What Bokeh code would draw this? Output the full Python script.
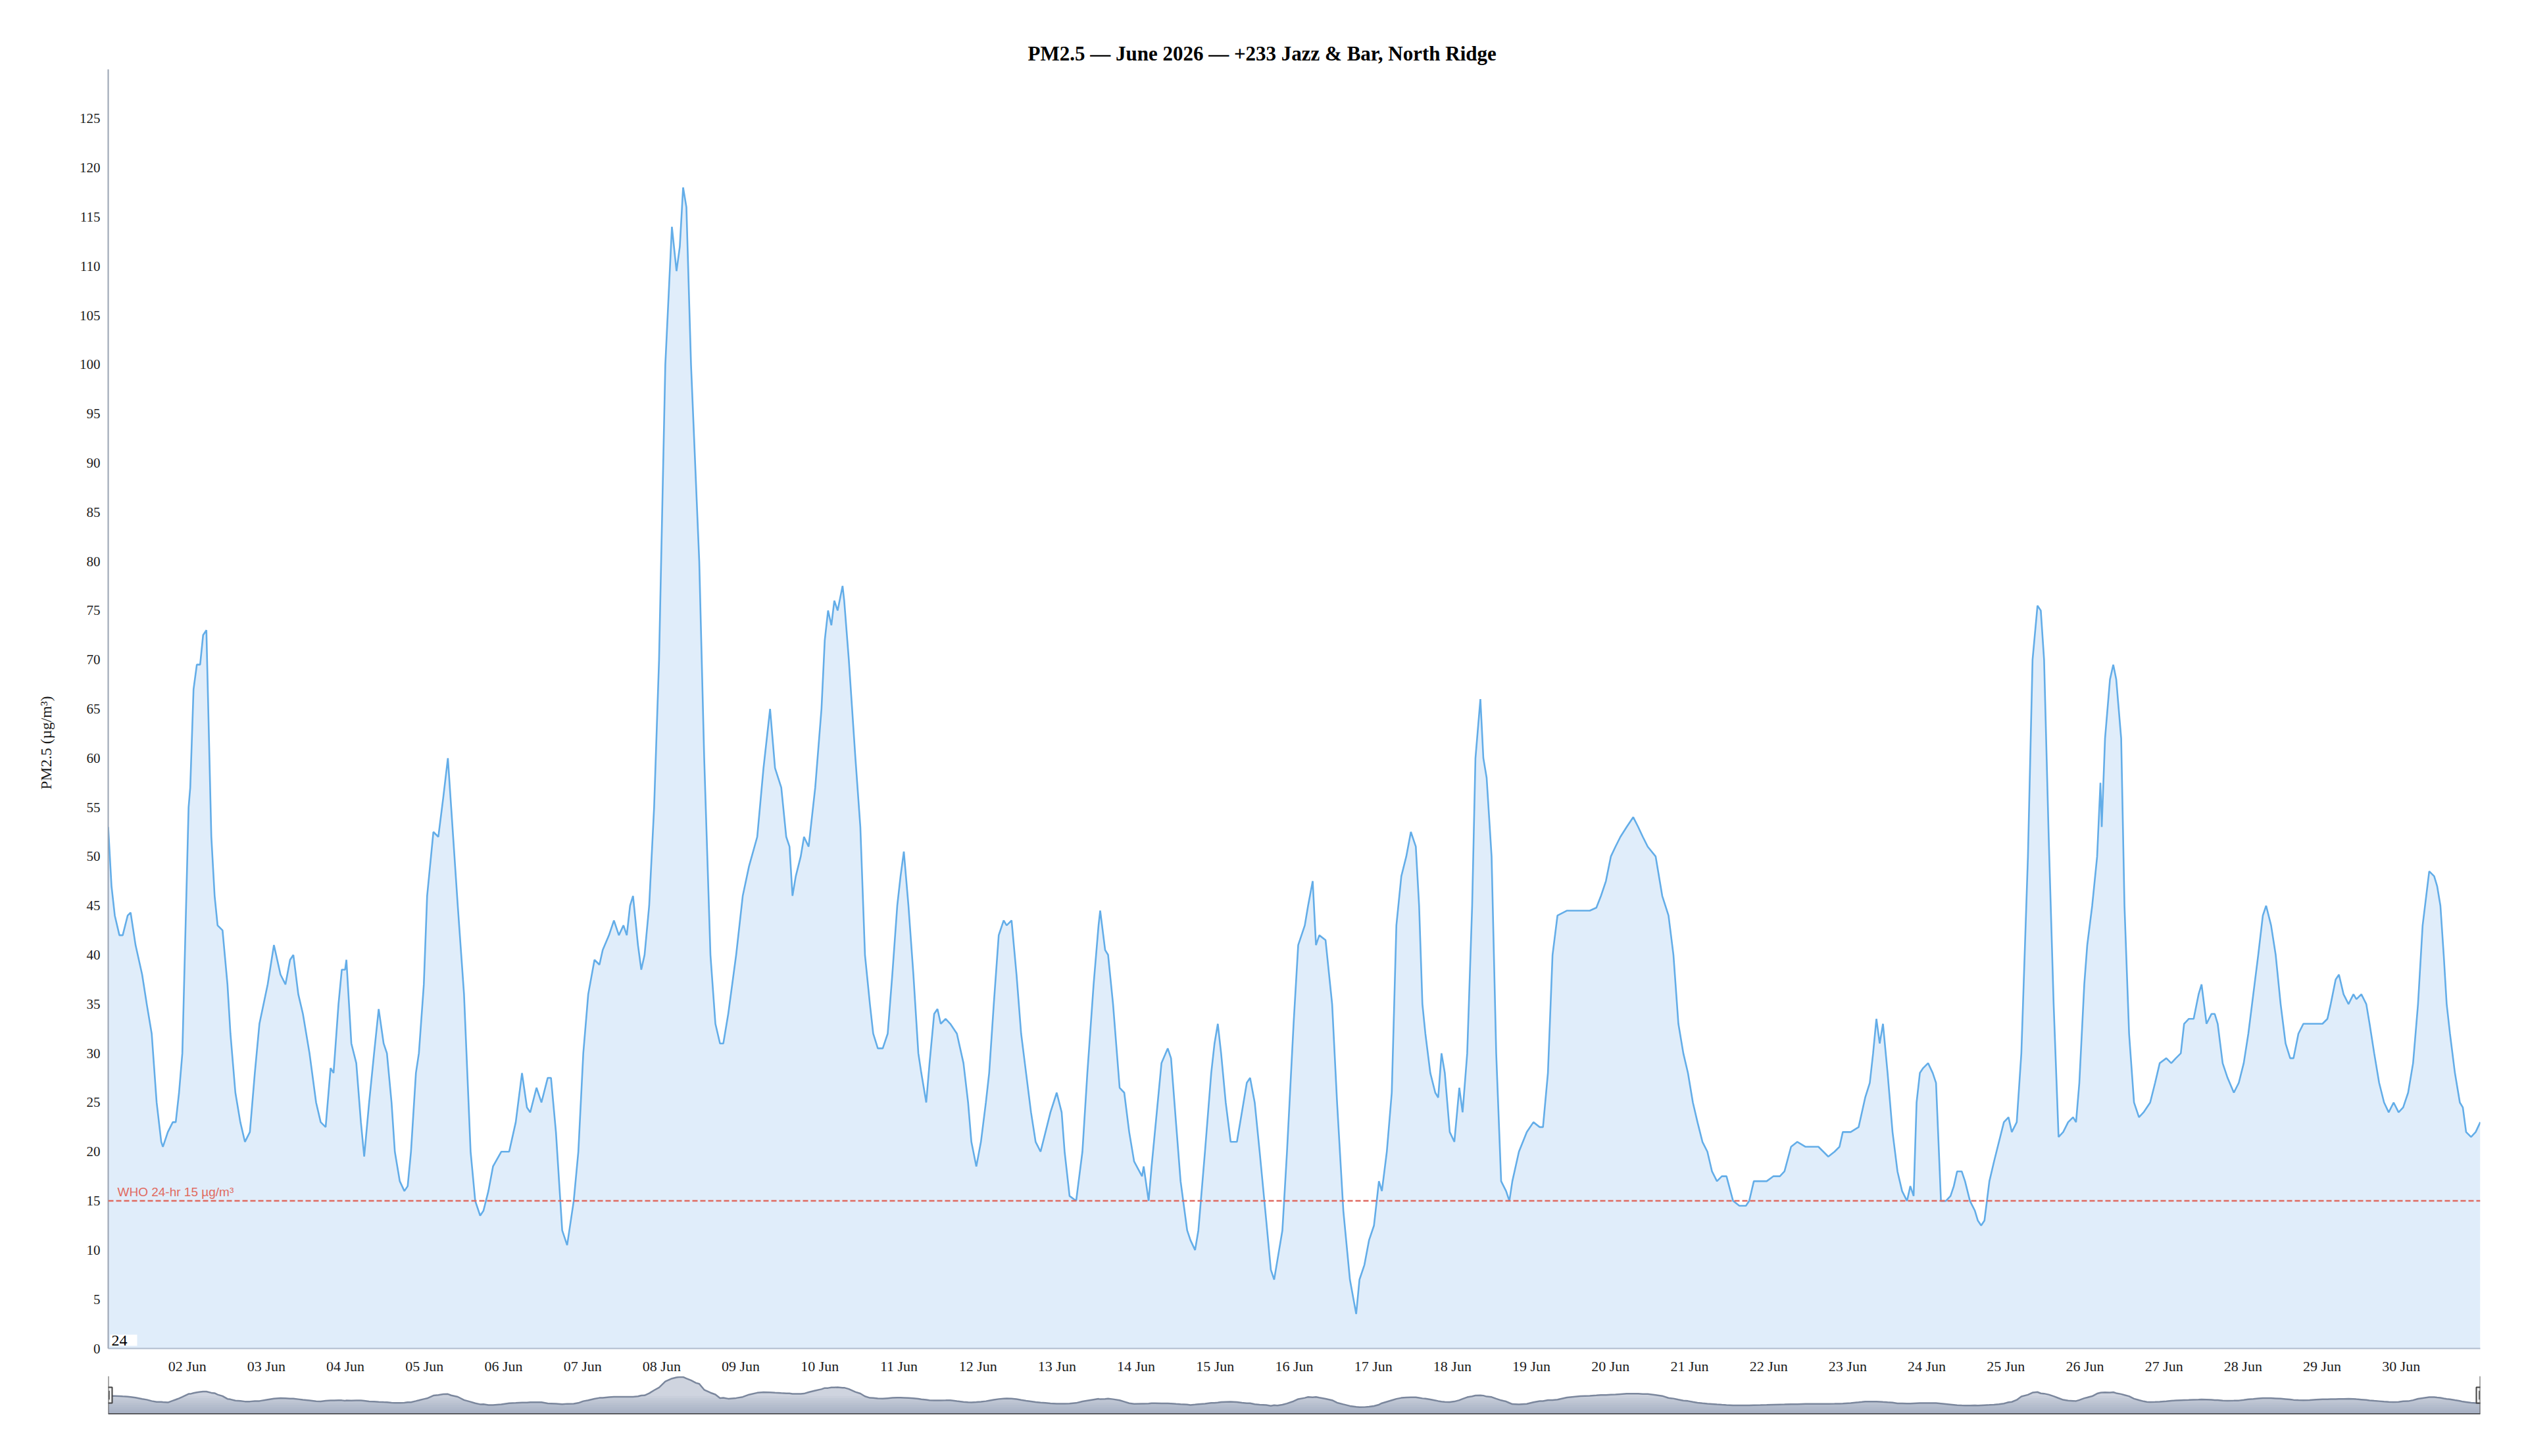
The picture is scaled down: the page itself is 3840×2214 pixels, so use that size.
import math
import numpy as np
import pandas as pd
from bokeh.plotting import figure
from bokeh.layouts import column
from bokeh.models import (Range1d, FixedTicker, DatetimeTickFormatter, Span, Label,
                          ColumnDataSource, Title)
from bokeh.embed import file_html
from bokeh.resources import INLINE

# ---------------- data ----------------
TITLE = "PM2.5 — June 2026 — +233 Jazz & Bar, North Ridge"
Y_LABEL = "PM2.5 (µg/m³)"
WHO_LABEL = "WHO 24-hr 15 µg/m³"
WHO_LIMIT = 15
CORNER_TEXT = "24"
START = "2026-06-01 00:00"
END = "2026-07-01 00:00"
TICK_DAYS = [f"2026-06-{d:02d}" for d in range(2, 31)]
Y_TICKS = list(range(0, 126, 5))

# hours since 2026-06-01 00:00
hours = [
    0, 1, 2, 3.4, 4.4, 5.9, 6.8, 8.3, 10.3, 11.7,
    13.2, 14.7, 16.1, 16.6, 18.1, 19.6, 20.5, 21.5, 22.5, 24.4,
    24.9, 25.9, 26.9, 27.9, 28.8, 29.8, 31.3, 32.3, 33.2, 34.7,
    36.2, 37.1, 38.6, 40.1, 41.5, 43, 44.5, 45.9, 48.4, 50.3,
    52.3, 53.8, 55.2, 56.2, 57.7, 59.1, 61.1, 63.1, 64.5, 66,
    67.5, 68.4, 69.9, 70.9, 71.9, 72.3, 73.8, 75.3, 76.7, 77.7,
    79.2, 80.7, 82.1, 83.6, 84.6, 86, 87, 88.5, 89.9, 90.9,
    91.9, 93.4, 94.3, 95.8, 96.8, 98.7, 100.2, 101.7, 103.1, 104.1,
    106.1, 108, 110, 111.4, 112.9, 113.9, 115.4, 116.8, 119.3, 121.7,
    123.7, 125.6, 127.1, 128.1, 130, 131.5, 133.4, 134.4, 135.9, 137.8,
    139.3, 141.3, 142.7, 144.2, 145.7, 147.6, 149.1, 150.1, 152, 153.5,
    155, 156.4, 157.4, 158.4, 159.3, 160.8, 161.8, 162.8, 164.2, 165.7,
    167.2, 169.1, 171.1, 172.5, 173.5, 174.5, 175.5, 176.9, 178.4, 179.4,
    180.9, 182.8, 184.3, 185.7, 186.7, 188.2, 190.6, 192.6, 194.5, 197,
    198.9, 200.9, 202.4, 204.3, 205.8, 206.8, 207.7, 208.7, 210.2, 211.2,
    212.6, 214.6, 216.5, 217.5, 218.5, 219.5, 220.4, 221.4, 222.9, 223.4,
    224.8, 226.8, 228.3, 229.7, 231.2, 232.2, 233.6, 235.1, 236.6, 238,
    239.5, 240.5, 241.5, 242.9, 244.4, 245.9, 246.8, 248.3, 249.3, 250.7,
    251.7, 252.7, 254.2, 255.6, 257.6, 259.6, 261, 262, 263.5, 264.9,
    266.4, 267.4, 268.8, 270.3, 271.8, 272.7, 274.2, 275.7, 277.1, 278.6,
    280.1, 281.5, 283, 284.5, 286, 287.9, 289.4, 290.3, 291.8, 293.8,
    295.7, 297.2, 299.1, 300.6, 301.1, 302.6, 303.5, 305, 307, 308.4,
    309.9, 311.4, 313.8, 314.3, 315.8, 316.7, 317.7, 319.7, 321.6, 322.6,
    324.1, 325.5, 327.5, 328.5, 329.9, 330.9, 332.9, 334.8, 335.8, 336.8,
    337.8, 339.2, 340.7, 342.6, 344.1, 345.6, 346.6, 348, 349.5, 351.5,
    352.9, 353.9, 354.9, 356.4, 357.8, 359.8, 361.2, 363.2, 364.2, 365.6,
    366.6, 367.6, 369.5, 371.5, 373, 374.9, 376.9, 378.8, 379.8, 381.3,
    382.7, 384.2, 385.7, 386.6, 388.1, 389.6, 391, 392.5, 394, 395.4,
    396.9, 397.9, 398.9, 399.8, 401.3, 402.8, 403.7, 404.7, 405.7, 407.2,
    408.6, 410.1, 411.1, 412.5, 414, 415, 416.5, 417.4, 418.4, 419.9,
    421.3, 422.8, 424.3, 425.3, 426.2, 428.2, 430.6, 432.6, 434.5, 435.5,
    437, 438.4, 439.9, 442.8, 446.8, 449.7, 451.7, 453.1, 454.6, 456.1,
    457.5, 459, 460.9, 462.9, 464.4, 465.8, 467.3, 469.7, 471.7, 473.6,
    475.1, 476.6, 478.1, 479.5, 481, 482.4, 483.9, 485.4, 486.8, 488.3,
    489.8, 491.2, 493.2, 495.1, 497.1, 498.1, 499.5, 501.5, 503.4, 505.4,
    507.4, 508.8, 510.8, 512.7, 515.2, 519.1, 520.6, 522.1, 524, 525.5,
    526.5, 528.9, 531.3, 532.3, 533.3, 534.7, 535.7, 536.7, 537.7, 538.7,
    540.1, 541.6, 543.1, 544.5, 546, 547, 548, 548.9, 549.9, 550.9,
    552.4, 553.8, 554.8, 556.3, 557.8, 559.2, 560.2, 561.2, 562.6, 563.6,
    565.1, 566.6, 567.5, 568.5, 569.5, 571, 572.4, 573.9, 575.4, 576.8,
    577.8, 579.3, 580.7, 582.7, 584.1, 585.6, 586.6, 587.6, 589, 590.5,
    592, 593.4, 594.9, 596.4, 597.3, 598.3, 599.8, 600.7, 602.2, 603.7,
    604.7, 605.1, 606.1, 607.6, 608.6, 609.5, 611, 612, 613.4, 614.9,
    616.4, 617.8, 618.8, 619.8, 621.3, 622.7, 624.7, 626.2, 627.6, 629.1,
    630.1, 631.5, 633, 634.5, 635.4, 636.9, 638.4, 639.4, 640.3, 641.8,
    643.3, 645.2, 646.7, 648.2, 649.6, 651.1, 652.6, 654, 655, 656.5,
    657.9, 659.4, 660.9, 662.3, 663.3, 664.8, 666.3, 668.2, 670.2, 672.1,
    673.6, 674.6, 676.1, 677.1, 678.5, 680, 681.5, 682.4, 683.9, 685.4,
    686.4, 687.8, 689.3, 690.8, 692.2, 693.7, 695.2, 696.6, 698.1, 699.6,
    701.1, 702.5, 704.5, 706, 706.9, 707.9, 708.9, 709.8, 710.8, 712.3,
    713.8, 714.7, 715.7, 717.2, 718.6, 720,
]

pm25 = [
    53, 47, 44, 42, 42, 44, 44.3, 41, 38, 35,
    32, 25, 21, 20.5, 22, 23, 23, 26, 30, 55,
    57, 67, 69.5, 69.5, 72.5, 73, 52, 46, 43, 42.5,
    37, 32, 26, 23, 21, 22, 28, 33, 37, 41,
    38, 37, 39.5, 40, 36, 34, 30, 25, 23, 22.5,
    28.5, 28, 35, 38.5, 38.5, 39.5, 31, 29, 23, 19.5,
    25, 30, 34.5, 31, 30, 25, 20, 17, 16, 16.5,
    20, 28, 30, 37, 46, 52.5, 52, 56, 60, 55,
    45, 36, 20, 15, 13.5, 14, 16, 18.5, 20, 20,
    23, 28, 24.5, 24, 26.5, 25, 27.5, 27.5, 22, 12,
    10.5, 15, 20, 30, 36, 39.5, 39, 40.5, 42, 43.5,
    42, 43, 42, 45, 46, 41, 38.5, 40, 45, 55,
    70, 100, 114, 109.5, 112, 118, 116, 100, 88, 80,
    60, 40, 33, 31, 31, 34, 40, 46, 49, 52,
    59, 65, 59, 57, 52, 51, 46, 48, 50, 52,
    51, 57, 65, 72, 75, 73.5, 76, 75, 77.5, 76,
    70, 60, 53, 40, 35, 32, 30.5, 30.5, 32, 38,
    45, 48, 50.5, 45, 38, 30, 28, 25, 29, 34,
    34.5, 33, 33.5, 33, 32, 29, 25, 21, 18.5, 21,
    25, 28, 35, 42, 43.5, 43, 43.5, 38, 32, 28,
    24, 21, 20, 22, 24, 26, 24, 20, 15.5, 15,
    20, 28, 37, 43, 44.5, 40.5, 40, 35, 26.5, 26,
    22, 19, 17.5, 18.5, 15, 18.5, 22, 29, 30.5, 29.5,
    23, 17, 12, 11, 10, 12, 20, 28, 31, 33,
    30, 25, 21, 21, 24, 27, 27.5, 25, 20, 13,
    8, 7, 9, 12, 20, 33, 41, 43, 45, 47.5,
    41, 42, 41.5, 35, 25, 14, 7, 3.5, 7, 8.5,
    11, 12.5, 17, 16, 20, 26, 43, 48, 50, 52.5,
    51, 45, 35, 32, 28, 26, 25.5, 30, 28, 22,
    21, 26.5, 24, 30, 45, 60, 66, 60, 58, 50,
    30, 17, 16, 15, 17, 20, 22, 23, 22.5, 22.5,
    28, 40, 44, 44.5, 44.5, 44.5, 44.8, 46, 47.5, 50,
    51, 52, 53, 54, 53, 52, 51, 50, 46, 44,
    40, 33, 30, 28, 25, 23, 21, 20, 18, 17,
    17.5, 17.5, 15, 14.5, 14.5, 15, 17, 17, 17, 17.5,
    17.5, 18, 20.5, 21, 20.5, 20.5, 20, 19.5, 20, 20.5,
    22, 22, 22.5, 24, 25.5, 27, 30, 33.5, 31, 33,
    28, 22, 18, 16, 15, 16.5, 15.5, 25, 28, 28.5,
    29, 28, 27, 15, 15, 15.5, 16.5, 18, 18, 17,
    15, 14, 13, 12.5, 13, 17, 19, 21, 23, 23.5,
    22, 23, 30, 50, 70, 75.5, 75, 70, 52, 35,
    21.5, 22, 23, 23.5, 23, 27, 37, 41, 45, 50,
    57.5, 53, 62, 68, 69.5, 68, 62, 45, 32, 25,
    23.5, 24, 24.5, 25, 27, 29, 29.5, 29, 29.5, 30,
    33, 33.5, 33.5, 36, 37, 33, 34, 34, 33, 29,
    27.5, 26, 27, 29, 32, 36, 40, 44, 45, 43,
    40, 35, 31, 29.5, 29.5, 32, 33, 33, 33, 33,
    33.5, 35, 37.5, 38, 36, 35, 36, 35.5, 36, 35,
    33, 30, 27, 25, 24, 25, 24, 24.5, 26, 29,
    35, 43, 48.5, 48, 47, 45, 40, 35, 32, 28,
    25, 24.5, 22, 21.5, 22, 23,
]

assert len(hours) == len(pm25)

# ---------------- derived ----------------
start = pd.Timestamp(START)
end = pd.Timestamp(END)
times = start + pd.to_timedelta(hours, unit="h")
series = pd.Series(pm25, index=times)
smooth = series.rolling("12h", center=True).mean()

src = ColumnDataSource(dict(t=times, v=pm25))
nav_src = ColumnDataSource(dict(t=times, v=smooth.values))

epoch = pd.Timestamp("1970-01-01")
to_ms = lambda ts: (pd.Timestamp(ts) - epoch).total_seconds() * 1000.0
x_ticks = [to_ms(d) for d in TICK_DAYS]

SERIF = "Liberation Serif"
SANS = "Liberation Sans"
TEXT = "#1a1a1a"
WHO_COLOR = "#e06a60"

FIG_W = 3824
B_LEFT, B_RIGHT = 164, 54
B_TOP, PLOT_H, B_BOTTOM = 105, 1947, 40
PLOT_W = FIG_W - B_LEFT - B_RIGHT
Y_MAX = 130

# ---------------- main chart ----------------
x_range = Range1d(start, end)
p = figure(width=FIG_W, height=B_TOP + PLOT_H + B_BOTTOM, x_axis_type="datetime",
           x_range=x_range, y_range=Range1d(0, Y_MAX),
           output_backend="svg", toolbar_location=None,
           min_border_left=B_LEFT, min_border_right=B_RIGHT,
           min_border_top=B_TOP, min_border_bottom=B_BOTTOM,
           title=TITLE)
p.outline_line_color = None
p.background_fill_color = "white"
p.border_fill_color = "white"
p.xgrid.visible = False
p.ygrid.visible = False

p.title.align = "left"
p.title.offset = 1398
p.title.standoff = 13
p.title.text_font = SERIF
p.title.text_font_size = "31px"
p.title.text_font_style = "bold"
p.title.text_color = "#000000"

p.varea(x="t", y1=0, y2="v", source=src, fill_color="#7cb5ec", fill_alpha=0.24)
p.line(x="t", y="v", source=src, line_color="#63ade8", line_width=2.6)

p.add_layout(Span(location=WHO_LIMIT, dimension="width", line_color=WHO_COLOR,
                  line_width=2.5, line_dash="8 4"))
p.add_layout(Label(x=start, y=WHO_LIMIT, x_offset=14, y_offset=3, text=WHO_LABEL,
                   text_font=SANS, text_font_size="19px", text_color=WHO_COLOR,
                   text_baseline="bottom", text_align="left"))
p.add_layout(Label(x=start, y=0, x_offset=3, y_offset=4, text=CORNER_TEXT,
                   text_font=SERIF, text_font_size="24px", text_color="#000000",
                   text_baseline="bottom", text_align="left",
                   background_fill_color="white", background_fill_alpha=1.0,
                   padding=dict(left=2, right=15, top=1, bottom=1)))

# vertical y-axis title, set slightly below centre as in the original
p.add_layout(Title(text=Y_LABEL, align="left", offset=850, standoff=70,
                   text_font=SERIF, text_font_size="23.5px", text_font_style="normal",
                   text_color=TEXT), "left")

# y axis
p.yaxis.ticker = FixedTicker(ticks=Y_TICKS)
p.yaxis.major_tick_line_color = None
p.yaxis.minor_tick_line_color = None
p.yaxis.axis_line_color = "#9aa3b2"
p.yaxis.axis_line_width = 2
p.yaxis.major_label_text_font = SERIF
p.yaxis.major_label_text_font_size = "21px"
p.yaxis.major_label_text_color = TEXT
p.yaxis.major_label_standoff = 6

# x axis
p.xaxis.ticker = FixedTicker(ticks=x_ticks)
fmt = "%d %b"
p.xaxis.formatter = DatetimeTickFormatter(days=fmt, months=fmt, hours=fmt,
                                          hourmin=fmt, minutes=fmt, years=fmt)
p.xaxis.major_tick_line_color = None
p.xaxis.minor_tick_line_color = None
p.xaxis.axis_line_color = "#b0bccd"
p.xaxis.axis_line_width = 2
p.xaxis.major_label_text_font = SERIF
p.xaxis.major_label_text_font_size = "22px"
p.xaxis.major_label_text_color = TEXT
p.xaxis.major_label_standoff = 8

# ---------------- navigator ----------------
NAV_LO, NAV_HI = -12, 107
nav = figure(width=FIG_W, height=68, x_axis_type="datetime",
             x_range=x_range, y_range=Range1d(NAV_LO, NAV_HI),
             output_backend="svg", toolbar_location=None,
             x_axis_location=None, y_axis_location=None,
             min_border_left=B_LEFT, min_border_right=B_RIGHT,
             min_border_top=0, min_border_bottom=10)
nav.outline_line_color = None
nav.xgrid.visible = False
nav.ygrid.visible = False

nav.varea(x="t", y1=NAV_LO, y2="v", source=nav_src, fill_color="#cfd4df", fill_alpha=1.0)
for lvl in [45, 38, 31, 24, 17, 10, 3, -4]:
    nav.varea(x=times, y1=NAV_LO, y2=np.minimum(smooth.values, lvl),
              fill_color="#7f8ba6", fill_alpha=0.07)
nav.line(x="t", y="v", source=nav_src, line_color="#7b879d", line_width=2.5)

nav.add_layout(Span(location=NAV_LO, dimension="width", line_color="#3c3c3c", line_width=3))
for edge in (start, end):
    nav.add_layout(Span(location=edge, dimension="height", line_color="#555555", line_width=2))

mid = (NAV_LO + NAV_HI) / 2
nav.rect(x=[start, end], y=[mid, mid], width=12, height=24,
         width_units="screen", height_units="screen",
         fill_color="#f2f2f2", line_color="#444444", line_width=2)
px_ms = (end - start).total_seconds() * 1000.0 / PLOT_W
hx = []
for edge in (start, end):
    e = to_ms(edge)
    hx += [e - 1.5 * px_ms, e + 1.5 * px_ms]
nav.segment(x0=hx, y0=[mid - 14] * 4, x1=hx, y1=[mid + 14] * 4,
            line_color="#444444", line_width=1.5)

layout = column(p, nav, spacing=0)
open("out.html", "w").write(file_html(layout, INLINE))
